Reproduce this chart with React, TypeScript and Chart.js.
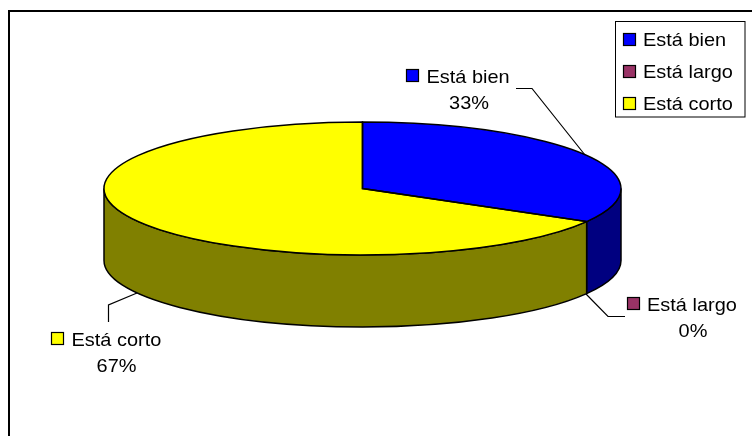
import React, { useEffect, useRef } from "react";
import { Chart, registerables } from "chart.js";

Chart.register(...registerables);

const categories = ["Está bien", "Está largo", "Está corto"];
const shares = [33.3, 0, 66.7];
const topColors = ["#0000FF", "#993366", "#FFFF00"];
const wallColors = ["#000080", "#4D1933", "#808000"];

const PIE_RADIUS = 258.5;
const TILT = 0.257;
const DEPTH = 72;
const FONT = '19px "Liberation Sans", Arial, sans-serif';
const TEXT_STRETCH = 1.05;

const legendRows = [
  { swatchX: 623, swatchY: 33, textX: 643, baseline: 45.5 },
  { swatchX: 623, swatchY: 65, textX: 643, baseline: 77.5 },
  { swatchX: 623, swatchY: 97, textX: 643, baseline: 109.5 },
];
const calloutLayout = [
  { swatchX: 406, swatchY: 69, textX: 426.5, baseline: 82.5, pctX: 469, pctBaseline: 109, leader: [[516, 88.5], [532, 88.5], [585, 155]] },
  { swatchX: 627, swatchY: 297, textX: 647, baseline: 310.5, pctX: 693, pctBaseline: 336.5, leader: [[586, 294], [608, 316.5], [625, 316.5]] },
  { swatchX: 51, swatchY: 332, textX: 71.5, baseline: 345.5, pctX: 116.5, pctBaseline: 372, leader: [[137, 293], [108.5, 305], [108.5, 322]] },
];

function text(ctx: CanvasRenderingContext2D, s: string, x: number, y: number, center = false) {
  ctx.save();
  ctx.font = FONT;
  ctx.fillStyle = "#000";
  ctx.textBaseline = "alphabetic";
  ctx.textAlign = center ? "center" : "left";
  ctx.translate(x, y);
  ctx.scale(TEXT_STRETCH, 1);
  ctx.fillText(s, 0, 0);
  ctx.restore();
}

function swatch(ctx: CanvasRenderingContext2D, x: number, y: number, color: string) {
  ctx.fillStyle = color;
  ctx.strokeStyle = "#000";
  ctx.lineWidth = 1.2;
  ctx.fillRect(x + 0.5, y + 0.5, 12, 12);
  ctx.strokeRect(x + 0.5, y + 0.5, 12, 12);
}

const pie3d = {
  id: "pie3d",
  beforeDatasetsDraw(chart: any) {
    const { ctx } = chart;
    const arcs = chart.getDatasetMeta(0).data;
    ctx.save();
    arcs.forEach((arc: any, i: number) => {
      const a0 = Math.max(arc.startAngle, 0);
      const a1 = Math.min(arc.endAngle, Math.PI);
      if (a1 <= a0) return;
      const ry = arc.outerRadius * TILT;
      ctx.beginPath();
      ctx.ellipse(arc.x, arc.y, arc.outerRadius, ry, 0, a0, a1, false);
      ctx.ellipse(arc.x, arc.y + DEPTH, arc.outerRadius, ry, 0, a1, a0, true);
      ctx.closePath();
      ctx.fillStyle = wallColors[i];
      ctx.fill();
      ctx.strokeStyle = "#000";
      ctx.lineWidth = 1.5;
      ctx.stroke();
    });
    ctx.restore();
    const first = arcs[0];
    ctx.save();
    ctx.translate(0, first.y);
    ctx.scale(1, TILT);
    ctx.translate(0, -first.y);
  },
  afterDatasetsDraw(chart: any) {
    const { ctx } = chart;
    ctx.restore();
    const arcs = chart.getDatasetMeta(0).data;
    ctx.save();
    ctx.strokeStyle = "#000";
    ctx.lineWidth = 1.5;
    arcs.forEach((arc: any) => {
      if (arc.endAngle - arc.startAngle <= 0) return;
      const ry = arc.outerRadius * TILT;
      ctx.beginPath();
      ctx.moveTo(arc.x, arc.y);
      ctx.ellipse(arc.x, arc.y, arc.outerRadius, ry, 0, arc.startAngle, arc.endAngle, false);
      ctx.closePath();
      ctx.stroke();
    });
    ctx.restore();
  },
  afterDraw(chart: any) {
    const { ctx, width, height } = chart;
    ctx.save();
    // outer frame: top and left only
    ctx.strokeStyle = "#000";
    ctx.lineWidth = 2;
    ctx.beginPath();
    ctx.moveTo(9, height);
    ctx.lineTo(9, 11);
    ctx.lineTo(width, 11);
    ctx.stroke();
    // legend
    ctx.lineWidth = 1;
    ctx.fillStyle = "#fff";
    ctx.fillRect(615.5, 21.5, 129.5, 95.5);
    ctx.strokeRect(615.5, 21.5, 129.5, 95.5);
    categories.forEach((c, i) => {
      const r = legendRows[i];
      swatch(ctx, r.swatchX, r.swatchY, topColors[i]);
      text(ctx, c, r.textX, r.baseline);
    });
    // callouts
    const total = shares.reduce((a, b) => a + b, 0);
    categories.forEach((c, i) => {
      const l = calloutLayout[i];
      ctx.strokeStyle = "#000";
      ctx.lineWidth = 1.2;
      ctx.beginPath();
      l.leader.forEach(([x, y], k) => (k ? ctx.lineTo(x, y) : ctx.moveTo(x, y)));
      ctx.stroke();
      swatch(ctx, l.swatchX, l.swatchY, topColors[i]);
      text(ctx, c, l.textX, l.baseline);
      text(ctx, `${Math.round((shares[i] / total) * 100)}%`, l.pctX, l.pctBaseline, true);
    });
    ctx.restore();
  },
};

export default function App() {
  const ref = useRef<HTMLCanvasElement>(null);
  useEffect(() => {
    const chart = new Chart(ref.current!, {
      type: "pie",
      data: {
        labels: categories,
        datasets: [
          {
            data: shares,
            backgroundColor: topColors,
            borderWidth: 0,
            radius: PIE_RADIUS,
            clip: false,
          } as any,
        ],
      },
      options: {
        animation: false,
        responsive: false,
        layout: { padding: { right: 27, bottom: 59 } },
        plugins: { legend: { display: false }, tooltip: { enabled: false } },
      },
      plugins: [pie3d],
    });
    return () => chart.destroy();
  }, []);
  return (
    <div style={{ position: "fixed", left: 0, top: 0, width: 752, height: 436, background: "#fff" }}>
      <canvas ref={ref} width={752} height={436} style={{ display: "block" }} />
    </div>
  );
}
